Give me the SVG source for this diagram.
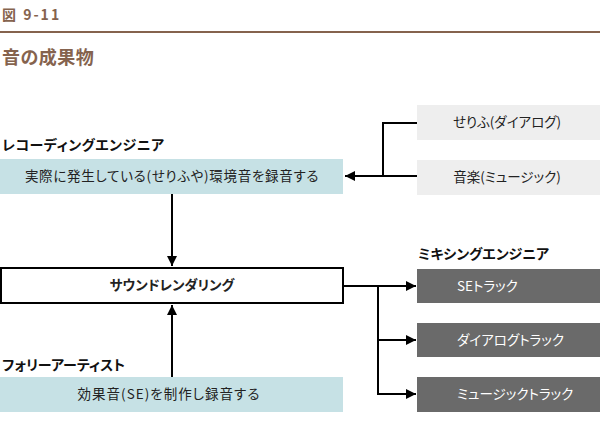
<svg xmlns="http://www.w3.org/2000/svg" width="600" height="424" viewBox="0 0 600 424">
<defs>
<style>
text{font-family:"Noto Sans CJK JP","Noto Sans",sans-serif;font-feature-settings:"palt";}
.hd{fill:#85634e;font-weight:bold;}
.lbl{font-size:14px;font-weight:bold;fill:#111;}
.bt{font-size:13.5px;fill:#222;}
.sp{letter-spacing:0.7px;}
.wt{font-size:13.5px;fill:#fff;}
.blue{fill:#c6e1e5;}
.lg{fill:#eeeeee;}
.dk{fill:#6a6a6a;}
.ln{stroke:#000;stroke-width:2;fill:none;}
</style>
<marker id="ah" viewBox="0 0 10 10" refX="10" refY="5" markerWidth="5" markerHeight="5" orient="auto" markerUnits="strokeWidth">
<path d="M0,0 L10,5 L0,10 z" fill="#000"/>
</marker>
</defs>
<rect width="600" height="424" fill="#fff"/>
<g id="title">
<text class="hd" x="2" y="20" font-size="14" letter-spacing="2">図 9-11</text>
<rect x="0" y="31" width="600" height="2" fill="#85634e"/>
<text class="hd" x="2" y="64" font-size="18" letter-spacing="0.5">音の成果物</text>
</g>
<g id="labels">
<text class="lbl" x="2" y="150" letter-spacing="0.5">レコーディングエンジニア</text>
<text class="lbl" x="418" y="259">ミキシングエンジニア</text>
<text class="lbl" x="2" y="370">フォリーアーティスト</text>
</g>
<g id="recording">
<rect class="blue" x="0" y="159" width="343" height="35"/>
<text class="bt sp" x="172" y="181" text-anchor="middle">実際に発生している(せりふや)環境音を録音する</text>
</g>
<g id="dialogue">
<rect class="lg" x="417" y="105" width="183" height="35"/>
<text class="bt" x="507" y="127" text-anchor="middle">せりふ(ダイアログ)</text>
</g>
<g id="music">
<rect class="lg" x="417" y="160" width="183" height="35"/>
<text class="bt" x="507" y="182" text-anchor="middle">音楽(ミュージック)</text>
</g>
<g id="rendering">
<rect x="1" y="268" width="342" height="35" fill="#fff" stroke="#000" stroke-width="2"/>
<text class="bt" x="172" y="290" text-anchor="middle" font-weight="bold" fill="#111">サウンドレンダリング</text>
</g>
<g id="foley">
<rect class="blue" x="0" y="377" width="343" height="35"/>
<text class="bt" x="169" y="399" text-anchor="middle" letter-spacing="1">効果音(SE)を制作し録音する</text>
</g>
<g id="se-track">
<rect class="dk" x="417" y="269" width="183" height="34"/>
<text class="wt" x="457" y="291">SEトラック</text>
</g>
<g id="dialogue-track">
<rect class="dk" x="417" y="323" width="183" height="34"/>
<text class="wt" x="457" y="345">ダイアログトラック</text>
</g>
<g id="music-track">
<rect class="dk" x="417" y="377" width="183" height="35"/>
<text class="wt" x="457" y="399">ミュージックトラック</text>
</g>
<g id="connectors">
<polyline class="ln" points="417,123 383,123 383,176"/>
<line class="ln" x1="417" y1="176" x2="345" y2="176" marker-end="url(#ah)"/>
<line class="ln" x1="172" y1="194" x2="172" y2="266" marker-end="url(#ah)"/>
<line class="ln" x1="172" y1="377" x2="172" y2="305" marker-end="url(#ah)"/>
<line class="ln" x1="343" y1="286" x2="416" y2="286" marker-end="url(#ah)"/>
<polyline class="ln" points="378,286 378,394 416,394" marker-end="url(#ah)"/>
<polyline class="ln" points="378,340 416,340" marker-end="url(#ah)"/>
</g>
</svg>
